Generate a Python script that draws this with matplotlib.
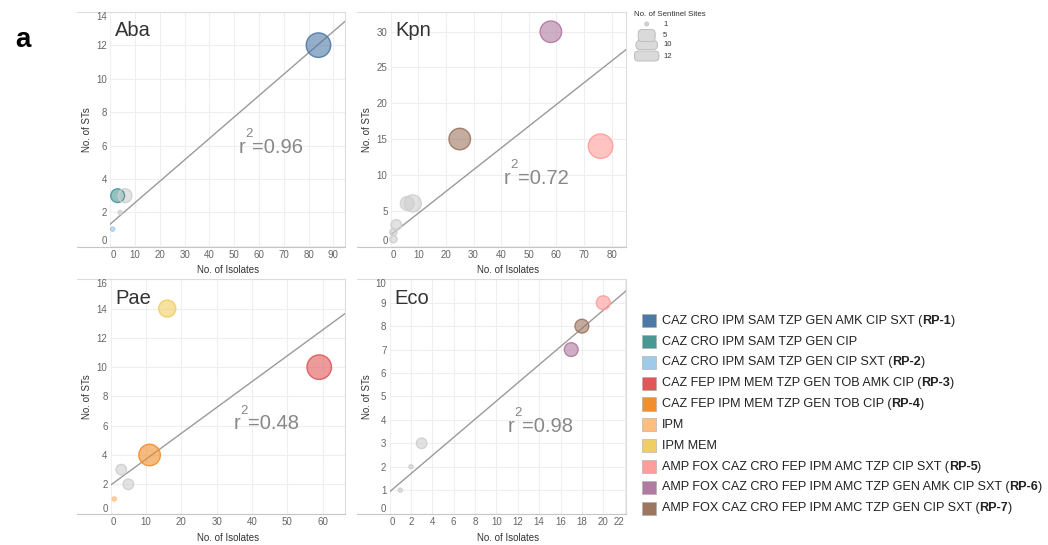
import numpy as np
import matplotlib
matplotlib.use("Agg")
import matplotlib.pyplot as plt
from matplotlib.patches import Rectangle, FancyBboxPatch, Ellipse
from matplotlib.transforms import offset_copy

plt.rcParams['font.family'] = ['Liberation Sans', 'DejaVu Sans']

# ---------------- data ----------------
profiles = [
    "CAZ CRO IPM SAM TZP GEN AMK CIP SXT",
    "CAZ CRO IPM SAM TZP GEN CIP",
    "CAZ CRO IPM SAM TZP GEN CIP SXT",
    "CAZ FEP IPM MEM TZP GEN TOB AMK CIP",
    "CAZ FEP IPM MEM TZP GEN TOB CIP",
    "IPM",
    "IPM MEM",
    "AMP FOX CAZ CRO FEP IPM AMC TZP CIP SXT",
    "AMP FOX CAZ CRO FEP IPM AMC TZP GEN AMK CIP SXT",
    "AMP FOX CAZ CRO FEP IPM AMC TZP GEN CIP SXT",
]
profile_rp = ["RP-1", "", "RP-2", "RP-3", "RP-4", "", "", "RP-5", "RP-6", "RP-7"]
profile_colors = ["#4E79A7", "#499894", "#A0CBE8", "#E15759", "#F28E2B",
                  "#FFBE7D", "#F1CE63", "#FF9D9A", "#B07AA1", "#9D7660"]
other_color = "#CFCFCF"

organisms = ["Aba", "Kpn", "Pae", "Eco"]

aba_isolates = [84, 3, 6, 4, 1]
aba_sts = [12, 3, 3, 2, 1]
aba_sites = [12, 4, 4, 1, 1]
aba_profile = [0, 1, -1, -1, 2]

kpn_isolates = [58, 25, 76, 8, 6, 2, 1, 1]
kpn_sts = [30, 15, 14, 6, 6, 3, 2, 1]
kpn_sites = [10, 10, 12, 5, 4, 3, 2, 2]
kpn_profile = [8, 9, 7, -1, -1, -1, -1, -1]

pae_isolates = [16, 59, 11, 3, 5, 1]
pae_sts = [14, 10, 4, 3, 2, 1]
pae_sites = [5, 12, 10, 3, 3, 1]
pae_profile = [6, 3, 4, -1, -1, 5]

eco_isolates = [20, 18, 17, 3, 2, 1]
eco_sts = [9, 8, 7, 3, 2, 1]
eco_sites = [4, 4, 4, 3, 1, 1]
eco_profile = [7, 9, 8, -1, -1, -1]

trend_intercept = [1.30, 1.59, 1.95, 0.93]
trend_slope = [0.128, 0.304, 0.1766, 0.3875]
r_squared = ["0.96", "0.72", "0.48", "0.98"]

aba_xticks = [0, 10, 20, 30, 40, 50, 60, 70, 80, 90]
aba_yticks = [0, 2, 4, 6, 8, 10, 12, 14]
kpn_xticks = [0, 10, 20, 30, 40, 50, 60, 70, 80]
kpn_yticks = [0, 5, 10, 15, 20, 25, 30]
pae_xticks = [0, 10, 20, 30, 40, 50, 60]
pae_yticks = [0, 2, 4, 6, 8, 10, 12, 14, 16]
eco_xticks = [0, 2, 4, 6, 8, 10, 12, 14, 16, 18, 20, 22]
eco_yticks = [0, 1, 2, 3, 4, 5, 6, 7, 8, 9, 10]

legend_sites = [1, 5, 10, 12]

# ---------------- layout / style ----------------
W, H = 1048, 545
fig = plt.figure(figsize=(W / 100, H / 100), dpi=100)
renderer = fig.canvas.get_renderer()

overlay = fig.add_axes([0, 0, 1, 1])
overlay.set_xlim(0, W)
overlay.set_ylim(H, 0)
overlay.axis('off')
overlay.patch.set_visible(False)

# pane rectangles in pixels: left, top, right, bottom, border-left
panes = [
    (110.2, 11.7, 345.0, 246.7, 76.7),
    (390.7, 11.7, 625.7, 246.7, 356.7),
    (110.7, 279.3, 345.0, 514.3, 76.7),
    (389.6, 279.3, 625.7, 514.3, 356.7),
]
xlims = [(0, 94.7), (0, 85.1), (0, 66.3), (0, 22.1)]
ylims = [(-0.05, 14), (-0.05, 32.8), (-0.05, 16), (-0.03, 10)]
r2_pos = [(0.5456, 0.40), (0.482, 0.267), (0.526, 0.362), (0.500, 0.351)]

panel_data = [
    (aba_isolates, aba_sts, aba_sites, aba_profile, aba_xticks, aba_yticks),
    (kpn_isolates, kpn_sts, kpn_sites, kpn_profile, kpn_xticks, kpn_yticks),
    (pae_isolates, pae_sts, pae_sites, pae_profile, pae_xticks, pae_yticks),
    (eco_isolates, eco_sts, eco_sites, eco_profile, eco_xticks, eco_yticks),
]

size_anchor_sites = [1, 5, 10, 12]
size_anchor_px = [4.0, 17.0, 21.5, 24.5]


def site_diam(sites):
    return np.interp(np.asarray(sites, float), size_anchor_sites, size_anchor_px)


def site_area(sites):
    return (site_diam(sites) * 0.72) ** 2


grid_c = "#EFEFEF"
top_c = "#DCDCDC"
bot_c = "#C6C6C6"
tick_c = "#666666"
lab_c = "#333333"
r2_c = "#888888"

for i, (org, (xs, ys, ss, ps, xt, yt)) in enumerate(zip(organisms, panel_data)):
    L, T, R, B, BL = panes[i]
    ax = fig.add_axes([L / W, 1 - B / H, (R - L) / W, (B - T) / H])
    ax.set_xlim(*xlims[i])
    ax.set_ylim(*ylims[i])
    ax.set_xticks(xt)
    ax.set_yticks(yt)
    ax.set_xticklabels([str(v) for v in xt])
    ax.set_yticklabels([str(v) for v in yt])
    ax.tick_params(length=0, labelsize=7, labelcolor=tick_c, pad=2.3)
    ax.grid(True, color=grid_c, lw=0.8)
    ax.set_axisbelow(True)
    ax.spines['left'].set_visible(False)
    ax.spines['top'].set_color(top_c)
    ax.spines['right'].set_color(top_c)
    ax.spines['bottom'].set_color(bot_c)
    for sp in ('top', 'right', 'bottom'):
        ax.spines[sp].set_linewidth(0.8)
    # shifted edge labels (Tableau style)
    yl = ax.get_yticklabels()
    yl[0].set_va('bottom')
    if yt[-1] >= ylims[i][1] - 1e-6:
        yl[-1].set_va('top')
    xl = ax.get_xticklabels()
    xl[0].set_ha('left')
    if xt[-1] >= xlims[i][1] - 0.3:
        xl[-1].set_ha('right')

    # border lines extending to the left
    overlay.plot([BL, L], [T, T], color=top_c, lw=0.8)
    overlay.plot([BL, L], [B, B], color=bot_c, lw=0.8)

    # trend line
    xx = np.array(xlims[i], float)
    ax.plot(xx, trend_intercept[i] + trend_slope[i] * xx, color="#9A9A9A", lw=1.0, zorder=2)

    # points (largest first so small ones stay visible)
    order = np.argsort(ss)[::-1]
    for k in order:
        c = profile_colors[ps[k]] if ps[k] >= 0 else other_color
        ax.scatter([xs[k]], [ys[k]], s=site_area([ss[k]]), facecolor=c, alpha=0.6,
                   edgecolor='none', zorder=3, clip_on=False)
        ax.scatter([xs[k]], [ys[k]], s=site_area([ss[k]]), facecolor='none',
                   edgecolor=c, lw=1.0, alpha=0.9, zorder=4, clip_on=False)

    # title
    ax.text(0.019, 0.897, org, transform=ax.transAxes, fontsize=14.5, color=lab_c,
            va='baseline', ha='left')

    # r^2 label
    fx, fy = r2_pos[i]
    t1 = ax.text(fx, fy, "r", transform=ax.transAxes, fontsize=14.5, color=r2_c,
                 va='baseline', ha='left')
    w1 = t1.get_window_extent(renderer).width
    tr2 = offset_copy(ax.transAxes, fig=fig, x=w1 * 0.72, y=11.3, units='points')
    t2 = ax.text(fx, fy, "2", transform=tr2, fontsize=9.5, color=r2_c, va='baseline', ha='left')
    w2 = t2.get_window_extent(renderer).width
    tr3 = offset_copy(ax.transAxes, fig=fig, x=(w1 + w2) * 0.72, y=0, units='points')
    ax.text(fx, fy, "=" + r_squared[i], transform=tr3, fontsize=14.5, color=r2_c,
            va='baseline', ha='left')

    # axis labels
    ax.text(0.5, -0.1, "No. of Isolates", transform=ax.transAxes, fontsize=7, color=lab_c,
            ha='center', va='center')
    ylab_x = (BL + 10 - L) / (R - L)
    ax.text(ylab_x, 0.5, "No. of STs", transform=ax.transAxes, fontsize=7, color=lab_c,
            ha='center', va='center', rotation=90)

# panel letter
overlay.text(15, 47, "a", fontsize=20, fontweight='bold', color='black', ha='left', va='baseline')

# size legend (Tableau draws the stacked size marks as rounded shapes)
overlay.text(634, 15, "No. of Sentinel Sites", fontsize=5.7, color=lab_c, ha='left', va='center')
size_leg_y = [24, 35.5, 45, 56]
size_leg_h = [4, 12, 9, 10]
cx = 646.7
for s, yy, hh in sorted(zip(legend_sites, size_leg_y, size_leg_h), key=lambda p: -p[0]):
    d = float(site_diam([s])[0])
    if s == 1:
        overlay.add_patch(Ellipse((cx, yy), d, d, facecolor="#D4D4D4", edgecolor="#C4C4C4",
                                  lw=0.6, zorder=3))
    else:
        overlay.add_patch(FancyBboxPatch((cx - d / 2 + 2, yy - hh / 2 + 2), d - 4, hh - 4,
                                         boxstyle="round,pad=2,rounding_size=4",
                                         facecolor="#DADADA", edgecolor="#BEBEBE",
                                         lw=0.7, zorder=3))
for s, yy in zip(legend_sites, size_leg_y):
    overlay.text(663, yy, str(s), fontsize=5.5, color=lab_c, ha='left', va='center')

# colour legend
row0, drow = 320.7, 20.84
for j, (lab, rp, c) in enumerate(zip(profiles, profile_rp, profile_colors)):
    yy = row0 + j * drow
    overlay.add_patch(Rectangle((642.3, yy - 6.6), 13.3, 13.2, facecolor=c,
                                edgecolor="#AAAAAA", lw=0.4))
    x0 = 661.7
    if rp:
        pieces = [(lab + " (", 'normal'), (rp, 'bold'), (")", 'normal')]
    else:
        pieces = [(lab, 'normal')]
    for txt, fw in pieces:
        t = overlay.text(x0, yy, txt, fontsize=9.1, fontweight=fw, color="#222222",
                         ha='left', va='center')
        x0 += t.get_window_extent(renderer).width

fig.savefig("out.png", dpi=100)
